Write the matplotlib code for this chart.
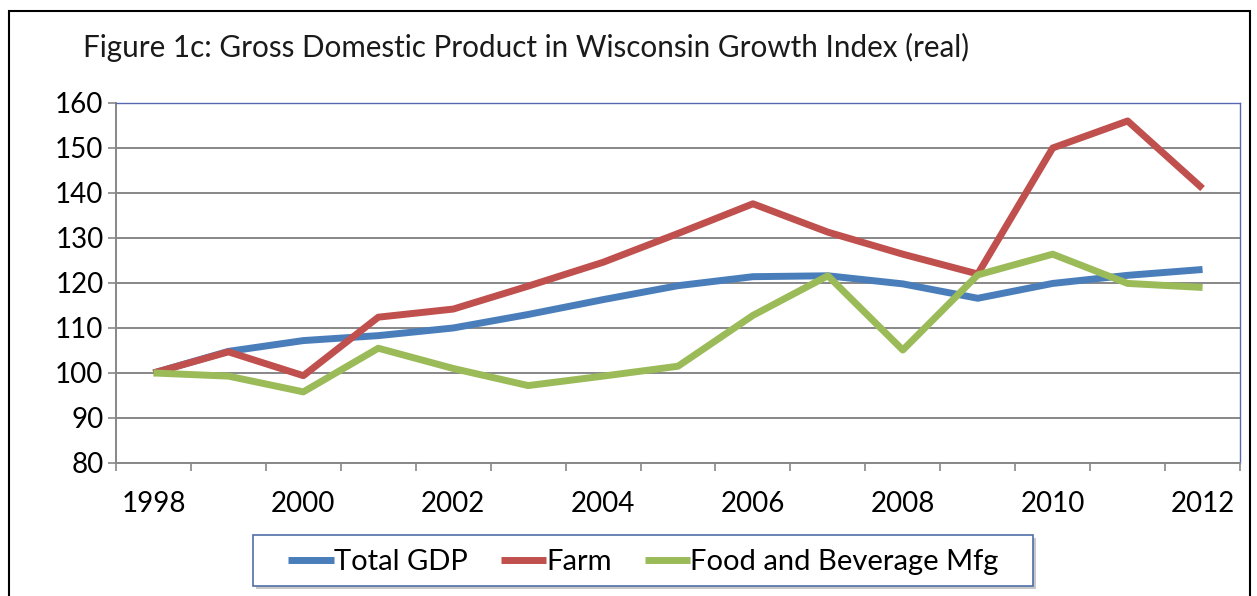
import matplotlib.pyplot as plt
from matplotlib.patches import Rectangle

plt.rcParams['font.family'] = ['Lato', 'DejaVu Sans']

years = list(range(1998, 2013))
total_gdp = [100, 104.8, 107.2, 108.3, 110.0, 113.0, 116.3, 119.4, 121.4, 121.6, 119.8, 116.6, 119.9, 121.7, 123.0]
farm = [100, 104.7, 99.4, 112.4, 114.2, 119.3, 124.6, 131.0, 137.6, 131.3, 126.4, 122.0, 150.0, 156.0, 141.0]
food_bev = [100, 99.3, 95.8, 105.5, 101.0, 97.2, 99.3, 101.5, 112.8, 121.6, 105.1, 121.8, 126.4, 119.9, 119.0]

year_labels = [str(y) for y in years[::2]]
y_ticks = list(range(80, 161, 10))

fig = plt.figure(figsize=(12.57, 5.96), dpi=100)
ax = fig.add_axes([0.0923, 0.2232, 0.8942, 0.604])

ax.plot(years, total_gdp, color='#4a7ebb', lw=5, label='Total GDP', solid_capstyle='butt', zorder=3)
ax.plot(years, farm, color='#c0504d', lw=5, label='Farm', solid_capstyle='butt', zorder=4)
ax.plot(years, food_bev, color='#9bbb59', lw=5, label='Food and Beverage Mfg', solid_capstyle='butt', zorder=5)

ax.set_xlim(years[0] - 0.5, years[-1] + 0.5)
ax.set_ylim(80, 160)
ax.set_yticks(y_ticks)
ax.yaxis.grid(True, color='#878787', lw=1.4)
ax.set_axisbelow(True)

# tick marks on the category edges, labels on every other year
ax.set_xticks([y - 0.5 for y in years] + [years[-1] + 0.5])
ax.set_xticklabels([])
ax.set_xticks(years[::2], minor=True)
ax.set_xticklabels(year_labels, minor=True)
ax.tick_params(axis='x', which='major', length=6, width=1.2, color='#878787', direction='out')
ax.tick_params(axis='x', which='minor', length=0, pad=20, labelsize=20)
ax.tick_params(axis='y', length=6, width=1.2, color='#878787', pad=3, labelsize=20)

for s in ['left', 'bottom']:
    ax.spines[s].set_color('#878787')
    ax.spines[s].set_linewidth(1.4)
for s in ['top', 'right']:
    ax.spines[s].set_color('#5868b0')
    ax.spines[s].set_linewidth(1.0)

fig.text(0.066, 0.92, 'Figure 1c: Gross Domestic Product in Wisconsin Growth Index (real)',
         fontsize=21.3, va='center', ha='left', color='#1a1a1a')

# legend without its own frame; Excel-style box with a soft shadow drawn behind it
leg = fig.legend(loc='center', bbox_to_anchor=(0.512, 0.057), ncol=3, fontsize=21,
                 frameon=False, handlelength=1.55, handletextpad=0.0, columnspacing=1.15)
W, H = 1257, 596
fig.patches.append(Rectangle(((253 + 3) / W, 1 - (586 + 3) / H), 780 / W, 51 / H,
                             transform=fig.transFigure, fc='#c8c8c8', ec='none', zorder=0))
fig.patches.append(Rectangle((253 / W, 1 - 586 / H), 780 / W, 51 / H,
                             transform=fig.transFigure, fc='white', ec='#4f6fa8', lw=1.2, zorder=1))

fig.patches.append(Rectangle((9 / W, -0.05), 1241 / W, 1 - 11 / H + 0.05,
                             transform=fig.transFigure, fill=False, ec='black', lw=1.5))

fig.savefig('out.png', dpi=100, facecolor='white')
